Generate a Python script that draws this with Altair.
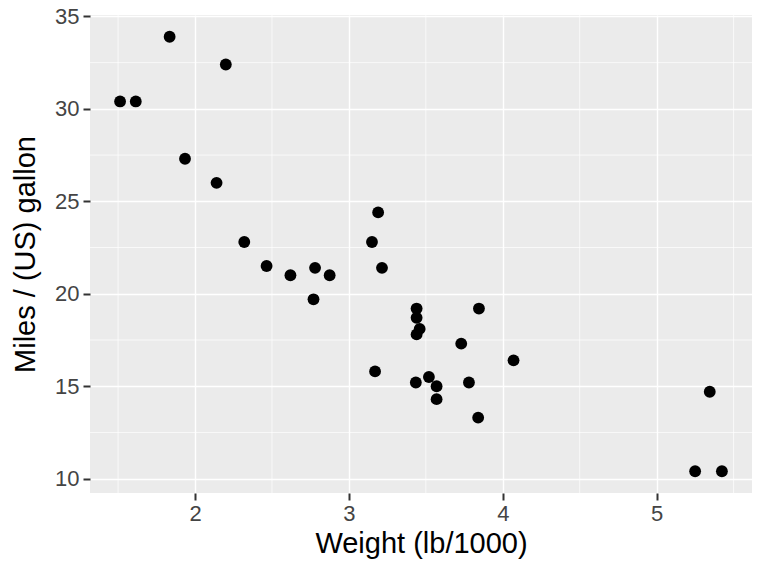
import altair as alt
import pandas as pd

wt = [2.620, 2.875, 2.320, 3.215, 3.440, 3.460, 3.570, 3.190, 3.150, 3.440, 3.440,
      4.070, 3.730, 3.780, 5.250, 5.424, 5.345, 2.200, 1.615, 1.835, 2.465, 3.520,
      3.435, 3.840, 3.845, 1.935, 2.140, 1.513, 3.170, 2.770, 3.570, 2.780]
mpg = [21.0, 21.0, 22.8, 21.4, 18.7, 18.1, 14.3, 24.4, 22.8, 19.2, 17.8,
       16.4, 17.3, 15.2, 10.4, 10.4, 14.7, 32.4, 30.4, 33.9, 21.5, 15.5,
       15.2, 13.3, 19.2, 27.3, 26.0, 30.4, 15.8, 19.7, 15.0, 21.4]
x_minor = [1.5, 2.5, 3.5, 4.5, 5.5]
y_minor = [12.5, 17.5, 22.5, 27.5, 32.5]
x_ticks = [2, 3, 4, 5]
y_ticks = [10, 15, 20, 25, 30, 35]

df = pd.DataFrame({"wt": wt, "mpg": mpg})
xdom = [1.3175, 5.6196]
ydom = [9.225, 35.075]

xs = alt.Scale(domain=xdom, nice=False, zero=False)
ys = alt.Scale(domain=ydom, nice=False, zero=False)

axis_common = dict(
    grid=True, gridColor="white", gridWidth=1.4,
    domain=False,
    tickColor="#333333", tickSize=7, tickWidth=2,
    labelColor="#444444", labelFont="Liberation Sans", labelFontSize=22,
    titleFont="Liberation Sans", titleFontSize=29, titleFontWeight="normal",
    titleColor="black",
)

minor_x = alt.Chart(pd.DataFrame({"v": x_minor})).mark_rule(color="white", strokeWidth=0.7).encode(
    x=alt.X("v:Q", scale=xs))
minor_y = alt.Chart(pd.DataFrame({"v": y_minor})).mark_rule(color="white", strokeWidth=0.7).encode(
    y=alt.Y("v:Q", scale=ys))

pts = alt.Chart(df).mark_circle(color="black", opacity=1, size=140).encode(
    x=alt.X("wt:Q", scale=xs, title="Weight (lb/1000)",
            axis=alt.Axis(values=x_ticks, format="d", labelPadding=3, titlePadding=5,
                          **axis_common)),
    y=alt.Y("mpg:Q", scale=ys, title="Miles / (US) gallon",
            axis=alt.Axis(values=y_ticks, format="d", labelPadding=4, titlePadding=14,
                          **axis_common)),
)

chart = alt.layer(minor_x, minor_y, pts).properties(
    width=662, height=478,
    autosize=alt.AutoSizeParams(type="none"),
    padding={"left": 90, "top": 15, "right": 16, "bottom": 83},
).configure_view(
    fill="#EBEBEB", stroke=None
)

chart.save("out.html", embed_options={"renderer": "svg", "actions": False})
